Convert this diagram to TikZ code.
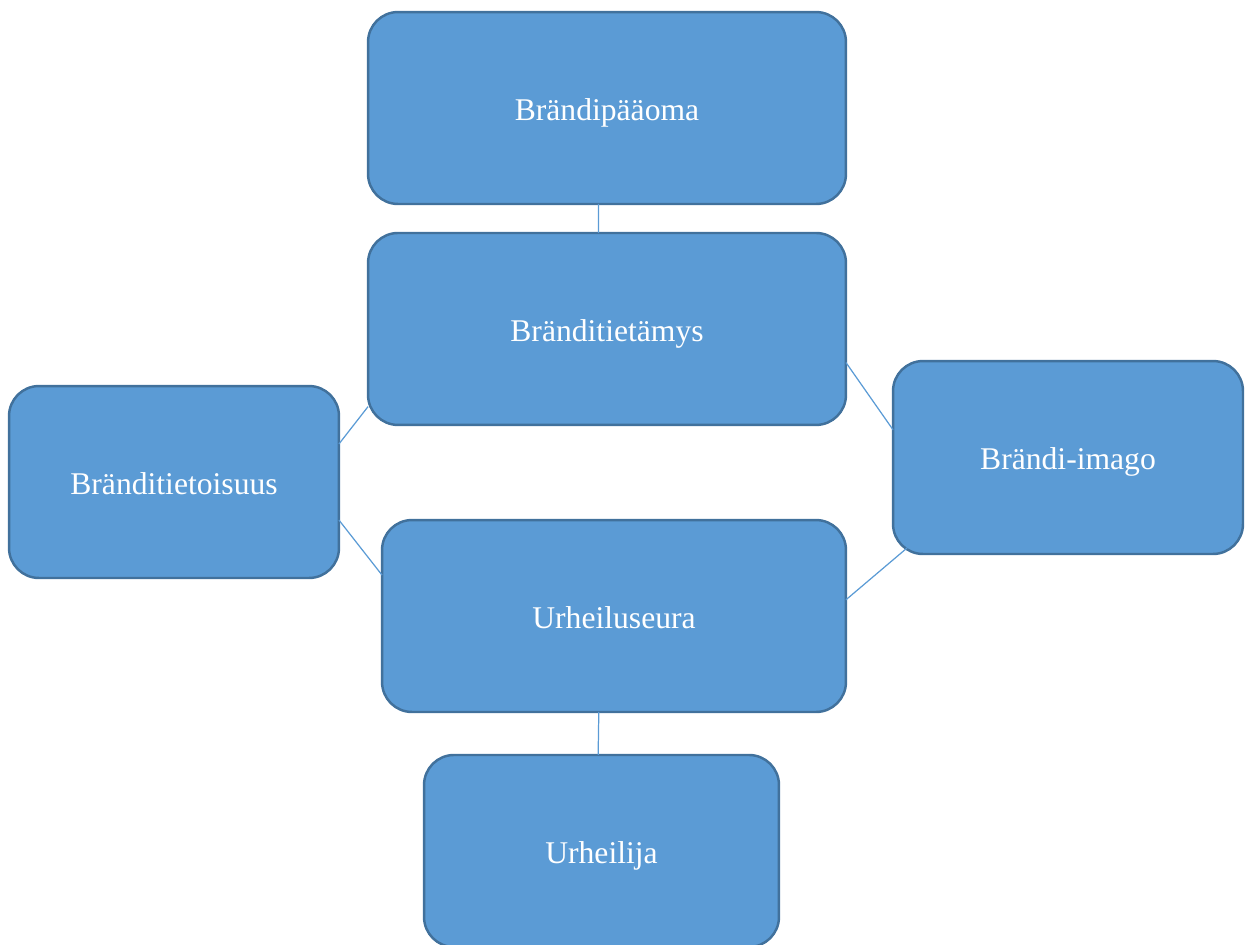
\documentclass[tikz,border=0pt]{standalone}
\usepackage{fontspec}
\setmainfont{Liberation Serif}
\usetikzlibrary{positioning}

\definecolor{boxfill}{RGB}{91,155,213}
\definecolor{boxline}{RGB}{65,113,156}

\tikzset{
    box/.style={rectangle, rounded corners=0.6cm, fill=boxfill, draw=boxline,
        line width=1.4pt, text=white, inner sep=0pt, outer sep=0pt,
        text height=18pt, text depth=4pt,
        font=\fontsize{18}{22}\selectfont},
    link/.style={draw=boxfill, line width=0.7pt}
}

\begin{document}
\begin{tikzpicture}[x=0.02cm,y=-0.02cm,node distance=2cm,on grid]
        \useasboundingbox (0,0) rectangle (1247,944);

        \node[box, minimum width=9.56cm, minimum height=3.84cm] (paaoma) at (607,108) {Brändipääoma};
        \node[box, minimum width=9.56cm, minimum height=3.84cm] (tietamys) [below=4.42cm of paaoma] {Bränditietämys};
        \node[box, minimum width=6.6cm, minimum height=3.84cm]  (tietoisuus) at (174,482) {Bränditietoisuus};
        \node[box, minimum width=7cm, minimum height=3.86cm]    (imago) at (1068,457.5) {Brändi-imago};
        \node[box, minimum width=9.28cm, minimum height=3.84cm] (seura) at (614,616) {Urheiluseura};
        \node[box, minimum width=7.1cm, minimum height=3.84cm]  (urheilija) [below=4.7cm of seura, xshift=-0.25cm] {Urheilija};

        \path[link] (paaoma.265) -- (tietamys.95)
        (tietoisuus.13) -- (tietamys.198)
        (tietoisuus.-13) -- (seura.170)
        (tietamys.-8) -- (imago.171)
        ([shift={(14,-6)}]imago.south west) -- (seura.4)
        (seura.261) -- (urheilija.92)
        ;
    \end{tikzpicture}
\end{document}
